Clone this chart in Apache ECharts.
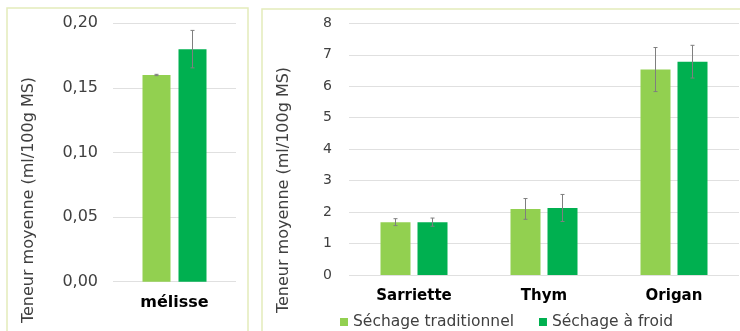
<!DOCTYPE html>
<html><head><meta charset="utf-8">
<script src="https://cdn.jsdelivr.net/npm/echarts@6/dist/echarts.min.js"></script>
<style>html,body{margin:0;padding:0;background:#fff}#c{width:740px;height:331px}</style>
</head><body><div id="c"></div>
<script>
// ---- data ----
var seriesNames = ['Séchage traditionnel', 'Séchage à froid'];
var categoriesLeft = ['mélisse'];
var tradLeft = [0.16];
var froidLeft = [0.18];
var tradLeftErr = [0.0005];
var froidLeftErr = [0.0145];
var leftTicks = [0, 0.05, 0.10, 0.15, 0.20];

var categoriesRight = ['Sarriette', 'Thym', 'Origan'];
var tradRight = [1.68, 2.10, 6.53];
var froidRight = [1.68, 2.13, 6.78];
var tradRightErr = [0.11, 0.33, 0.70];
var froidRightErr = [0.13, 0.43, 0.52];
var rightTicks = [0, 1, 2, 3, 4, 5, 6, 7, 8];

var axisTitle = 'Teneur moyenne (ml/100g MS)';

// ---- style ----
var C1 = '#92d050', C2 = '#00b050';
var FONT = 'DejaVu Sans';
var LW = 28, LG = 8;   // left bar width / gap px
var RW = 30, RG = 7;   // right bar width / gap px

function errSeries(name, vals, errs, xi, yi, offset) {
  var data = vals.map(function (v, i) { return [i, v, errs[i]]; });
  return {
    type: 'custom', name: name, xAxisIndex: xi, yAxisIndex: yi, z: 10,
    silent: true, legendHoverLink: false,
    data: data,
    renderItem: function (params, api) {
      var x = api.value(0), v = api.value(1), e = api.value(2);
      var top = api.coord([x, v + e]);
      var bot = api.coord([x, v - e]);
      var cx = top[0] + offset;
      var st = { stroke: '#7f7f7f', lineWidth: 1 };
      return { type: 'group', children: [
        { type: 'line', shape: { x1: cx, y1: top[1], x2: cx, y2: bot[1] }, style: st },
        { type: 'line', shape: { x1: cx - 2, y1: top[1], x2: cx + 2, y2: top[1] }, style: st },
        { type: 'line', shape: { x1: cx - 2, y1: bot[1], x2: cx + 2, y2: bot[1] }, style: st }
      ]};
    }
  };
}

var chart = echarts.init(document.getElementById('c'), null, { renderer: 'canvas' });
var axisLabelCommon = { color: '#404040', fontFamily: FONT };
chart.setOption({
  animation: false,
  textStyle: { fontFamily: FONT },
  graphic: [
    { type: 'rect', shape: { x: 7, y: 8, width: 241, height: 340 }, style: { fill: 'none', stroke: '#e4ecbb', lineWidth: 1.5 } },
    { type: 'rect', shape: { x: 262, y: 9, width: 500, height: 340 }, style: { fill: 'none', stroke: '#e4ecbb', lineWidth: 1.5 } },
    { type: 'text', x: 29, y: 200, rotation: Math.PI / 2,
      style: { text: axisTitle, fill: '#404040', font: '16px "DejaVu Sans"', align: 'center', verticalAlign: 'middle' } },
    { type: 'text', x: 284, y: 190, rotation: Math.PI / 2,
      style: { text: axisTitle, fill: '#404040', font: '16px "DejaVu Sans"', align: 'center', verticalAlign: 'middle' } }
  ],
  legend: {
    data: seriesNames, left: 340, top: 314, padding: 0, itemWidth: 8, itemHeight: 8, itemGap: 25,
    icon: 'rect', textStyle: { color: '#404040', fontSize: 15.5, fontFamily: FONT }
  },
  grid: [
    { left: 113, width: 123, top: 23.3, height: 258.4 },
    { left: 349, width: 390, top: 23.3, height: 251.7 }
  ],
  xAxis: [
    { type: 'category', gridIndex: 0, data: categoriesLeft, axisLine: { show: false }, axisTick: { show: false },
      axisLabel: { color: '#000', fontWeight: 'bold', fontSize: 16, margin: 13, fontFamily: FONT } },
    { type: 'category', gridIndex: 1, data: categoriesRight, axisLine: { show: false }, axisTick: { show: false },
      axisLabel: { color: '#000', fontWeight: 'bold', fontSize: 15, margin: 14, fontFamily: FONT } }
  ],
  yAxis: [
    { type: 'value', gridIndex: 0, min: leftTicks[0], max: leftTicks[leftTicks.length - 1], interval: 0.05,
      axisLine: { show: false }, axisTick: { show: false },
      splitLine: { lineStyle: { color: '#e0e0e0', width: 1 } },
      axisLabel: Object.assign({ fontSize: 16, margin: 15, formatter: function (v) { return v.toFixed(2).replace('.', ','); } }, axisLabelCommon) },
    { type: 'value', gridIndex: 1, min: rightTicks[0], max: rightTicks[rightTicks.length - 1], interval: 1,
      axisLine: { show: false }, axisTick: { show: false },
      splitLine: { lineStyle: { color: '#e0e0e0', width: 1 } },
      axisLabel: Object.assign({ fontSize: 14, margin: 17 }, axisLabelCommon) }
  ],
  series: [
    { type: 'bar', name: seriesNames[0], xAxisIndex: 0, yAxisIndex: 0, data: tradLeft, barWidth: LW, barGap: (LG / LW * 100) + '%', itemStyle: { color: C1 } },
    { type: 'bar', name: seriesNames[1], xAxisIndex: 0, yAxisIndex: 0, data: froidLeft, barWidth: LW, itemStyle: { color: C2 } },
    { type: 'bar', name: seriesNames[0], xAxisIndex: 1, yAxisIndex: 1, data: tradRight, barWidth: RW, barGap: (RG / RW * 100) + '%', itemStyle: { color: C1 } },
    { type: 'bar', name: seriesNames[1], xAxisIndex: 1, yAxisIndex: 1, data: froidRight, barWidth: RW, itemStyle: { color: C2 } },
    errSeries('errTL', tradLeft, tradLeftErr, 0, 0, -(LW + LG) / 2),
    errSeries('errFL', froidLeft, froidLeftErr, 0, 0, (LW + LG) / 2),
    errSeries('errTR', tradRight, tradRightErr, 1, 1, -(RW + RG) / 2),
    errSeries('errFR', froidRight, froidRightErr, 1, 1, (RW + RG) / 2)
  ]
});
</script>
</body></html>
